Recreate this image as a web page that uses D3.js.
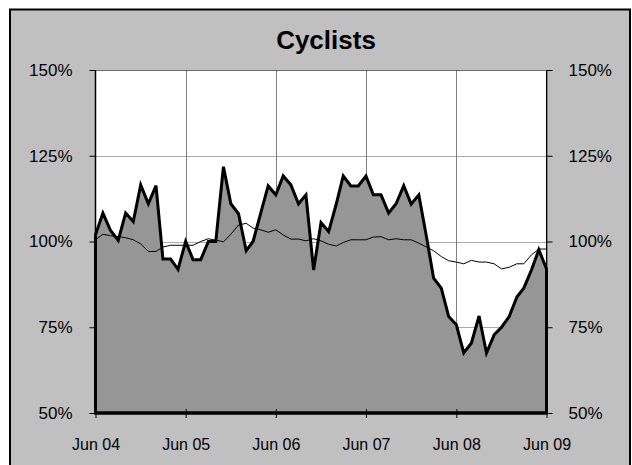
<!DOCTYPE html>
<html>
<head>
<meta charset="utf-8">
<script src="https://cdn.jsdelivr.net/npm/d3@7"></script>
<style>
  body { margin: 0; background: #fff; }
  svg text { font-family: Arial, "Liberation Sans", sans-serif; fill: #000; }
</style>
</head>
<body>
<svg id="chart" width="632" height="465"></svg>
<script>
// Monthly index values, Jun 04 .. Jun 09 (percent)
const cyclists = [
  102, 108.3, 103.2, 100.3, 108.3, 105.8, 116.5, 111, 116.3, 94.9, 94.9, 91.9,
  100, 94.7, 94.7, 100, 100, 121.8, 111, 108.1, 97.3, 100, 108.3, 116.2,
  113.6, 119.1, 116.5, 111, 113.6, 91.7, 105.5, 102.9, 111, 119.1, 116.2, 116.2,
  119.1, 113.6, 113.6, 108.3, 111, 116.3, 110.9, 113.6, 101.4, 89.3, 86.4, 78.1,
  75.7, 67.5, 70.4, 78.3, 67.5, 72.8, 75.0, 78.1, 83.8, 86.4, 91.7, 97.6,
  92.0
];

// Smoothed (trend) line
const trend = [
  100.5, 102.1, 101.7, 101.4, 101.1, 100.5, 99.3, 97.1, 97.1, 98.4, 98.9, 98.9,
  98.9, 98.9, 100.0, 100.8, 100.4, 99.9, 102.1, 104.8, 105.3, 103.9, 103.4, 102.7,
  103.4, 101.9, 100.7, 100.7, 100.2, 100.8, 100.2, 99.2, 98.7, 99.7, 100.5, 100.5,
  100.5, 101.3, 101.4, 100.5, 100.8, 100.5, 100.5, 99.5, 98.4, 97.3, 95.6, 94.4,
  94.0, 93.5, 94.5, 94.0, 94.0, 93.5, 92.0, 92.5, 93.5, 93.5, 96.1, 97.8,
  97.8
];

const yTicks = [50, 75, 100, 125, 150];
const xTickYears = [2004, 2005, 2006, 2007, 2008, 2009];
const title = "Cyclists";

const start = new Date(2004, 5, 1);
const dates = cyclists.map((_, i) => d3.timeMonth.offset(start, i));
const xTicks = xTickYears.map((yr) => new Date(yr, 5, 1));

// Plot area
const plotLeft = 95.5, plotRight = 546.5, plotTop = 70, plotBottom = 413;

const svg = d3.select("#chart");

// Chart frame
svg.append("rect")
  .attr("x", 10).attr("y", 9.5)
  .attr("width", 620).attr("height", 480)
  .attr("fill", "#c0c0c0")
  .attr("stroke", "#000")
  .attr("stroke-width", 2);

svg.append("text")
  .attr("x", 326).attr("y", 49)
  .attr("text-anchor", "middle")
  .style("font-size", "26px")
  .style("font-weight", "bold")
  .text(title);

const x = d3.scaleTime().domain([start, dates[dates.length - 1]]).range([plotLeft, plotRight]);
const y = d3.scaleLinear().domain([50, 150]).range([plotBottom, plotTop]);

// White plot background
svg.append("rect")
  .attr("x", plotLeft).attr("y", plotTop)
  .attr("width", plotRight - plotLeft).attr("height", plotBottom - plotTop)
  .attr("fill", "#fff");

// Vertical grid lines
svg.append("g")
  .selectAll("line")
  .data(xTicks.slice(1))
  .enter()
  .append("line")
  .attr("x1", (d) => Math.round(x(d)) + 0.5)
  .attr("x2", (d) => Math.round(x(d)) + 0.5)
  .attr("y1", plotTop).attr("y2", plotBottom)
  .attr("stroke", "#808080")
  .attr("stroke-width", 1);

// Horizontal dotted grid lines
svg.append("g")
  .selectAll("line")
  .data(yTicks.slice(1))
  .enter()
  .append("line")
  .attr("x1", plotLeft).attr("x2", plotRight)
  .attr("y1", (d) => Math.round(y(d)) + 0.5)
  .attr("y2", (d) => Math.round(y(d)) + 0.5)
  .attr("stroke", "#555")
  .attr("stroke-dasharray", "1,1");

// Filled area with heavy outline
const area = d3.area()
  .x((d, i) => x(dates[i]))
  .y0(plotBottom)
  .y1((d) => y(d));

svg.append("path")
  .datum(cyclists)
  .attr("d", area)
  .attr("fill", "#969696")
  .attr("stroke", "#000")
  .attr("stroke-width", 3)
  .attr("stroke-linejoin", "miter");

// Thin trend line
const line = d3.line()
  .x((d, i) => x(dates[i]))
  .y((d) => y(d));

svg.append("path")
  .datum(trend)
  .attr("d", line)
  .attr("fill", "none")
  .attr("stroke", "#000")
  .attr("stroke-width", 1);

// Axes
const fmtPct = (d) => d + "%";

const gLeft = svg.append("g")
  .attr("transform", `translate(${plotLeft},0)`)
  .call(d3.axisLeft(y).tickValues(yTicks).tickFormat(fmtPct).tickSize(6).tickPadding(17));

const gRight = svg.append("g")
  .attr("transform", `translate(${plotRight},0)`)
  .call(d3.axisRight(y).tickValues(yTicks).tickFormat(fmtPct).tickSize(6).tickPadding(16));

const gBottom = svg.append("g")
  .attr("transform", `translate(0,${plotBottom})`)
  .call(d3.axisBottom(x).tickValues(xTicks).tickFormat(d3.timeFormat("%b %y")).tickSize(5));

[gLeft, gRight, gBottom].forEach((g) => {
  g.select(".domain").remove();
  g.selectAll(".tick line").attr("stroke", "#000");
  g.selectAll("text")
    .style("font-size", "17px")
    .style("font-family", "Arial, 'Liberation Sans', sans-serif");
});

// x ticks cross the axis line
gBottom.selectAll(".tick line").attr("y1", -4).attr("y2", 5);
gBottom.selectAll("text")
  .style("font-size", "16px")
  .attr("y", 37)
  .attr("dy", null);

// Axis lines
svg.append("line")
  .attr("x1", plotLeft).attr("x2", plotLeft)
  .attr("y1", plotTop).attr("y2", plotBottom)
  .attr("stroke", "#000").attr("stroke-width", 1.5);
svg.append("line")
  .attr("x1", plotRight).attr("x2", plotRight)
  .attr("y1", plotTop).attr("y2", plotBottom)
  .attr("stroke", "#000").attr("stroke-width", 1);
svg.append("line")
  .attr("x1", plotLeft).attr("x2", plotRight)
  .attr("y1", plotTop + 0.5).attr("y2", plotTop + 0.5)
  .attr("stroke", "#333").attr("stroke-dasharray", "1,1");
svg.append("line")
  .attr("x1", plotLeft - 1).attr("x2", plotRight + 1)
  .attr("y1", plotBottom).attr("y2", plotBottom)
  .attr("stroke", "#000").attr("stroke-width", 3);
</script>
</body>
</html>
